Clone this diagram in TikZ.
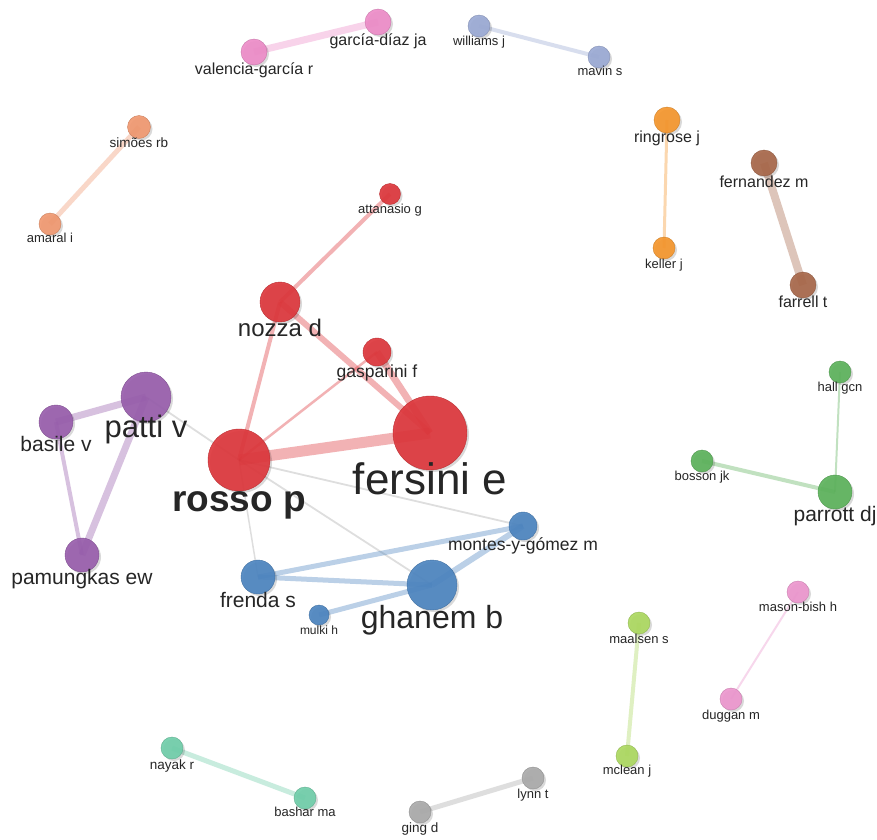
\documentclass[tikz,border=0pt]{standalone}
\usepackage{fontspec}
\setmainfont{Liberation Sans}
\usetikzlibrary{shadows,backgrounds}

\definecolor{cRed}{RGB}{221,55,60}
\definecolor{cBlue}{RGB}{77,133,192}
\definecolor{cPurple}{RGB}{152,94,172}
\definecolor{cGreen}{RGB}{93,178,92}
\definecolor{cOrange}{RGB}{245,150,45}
\definecolor{cBrown}{RGB}{168,104,74}
\definecolor{cPink}{RGB}{237,140,200}
\definecolor{cSalmon}{RGB}{240,152,112}
\definecolor{cSlate}{RGB}{155,170,212}
\definecolor{cLime}{RGB}{172,216,96}
\definecolor{cTeal}{RGB}{112,206,170}
\definecolor{cGray}{RGB}{170,170,170}
\definecolor{cOrchid}{RGB}{236,150,206}

\pgfdeclarelayer{edges}
\pgfsetlayers{background,edges,main}

\begin{document}
\begin{tikzpicture}[x=1pt,y=-1pt,
	au/.style 2 args={circle, inner sep=0pt, minimum size=#2, fill=#1, draw=#1!85!black, line width=.4pt,
		fill opacity=.92, drop shadow={shadow xshift=2pt, shadow yshift=-2pt, opacity=.15, fill=black}},
	lab/.style={font=\fontsize{#1}{#1}\selectfont, text=black!85, inner sep=0pt, anchor=base},
	link/.style 2 args={draw=#1, line width=#2, opacity=.38},
	cross/.style={draw=black, line width=#1, opacity=.13}]

	\begin{pgfonlayer}{background}
		\fill[white] (0,0) rectangle (877,839);
	\end{pgfonlayer}
	\useasboundingbox (0,0) rectangle (877,839);

	% red cluster
	\node[au={cRed}{74}] (fersini) at (430,433) {};
	\node[au={cRed}{62}] (rosso) at (239,460) {};
	\node[au={cRed}{40}] (nozza) at (280,302) {};
	\node[au={cRed}{28}] (gasparini) at (377,352) {};
	\node[au={cRed}{21}] (attanasio) at (390,194) {};
	\node[lab=44] (fersini-l) at (430,494) {fersini e};
	\node[lab=37] (rosso-l) at (239,511) {\bfseries rosso p};
	\node[lab=24] (nozza-l) at (280,336) {nozza d};
	\node[lab=17.5] (gasparini-l) at (377,377) {gasparini f};
	\node[lab=13] (attanasio-l) at (390,213) {attanasio g};

	% blue cluster
	\node[au={cBlue}{50}] (ghanem) at (432,585) {};
	\node[au={cBlue}{34}] (frenda) at (258,577) {};
	\node[au={cBlue}{28}] (montes) at (523,526) {};
	\node[au={cBlue}{20}] (mulki) at (319,615) {};
	\node[lab=32] (ghanem-l) at (432,628) {ghanem b};
	\node[lab=21] (frenda-l) at (258,607) {frenda s};
	\node[lab=17.5] (montes-l) at (523,550) {montes-y-gómez m};
	\node[lab=12] (mulki-l) at (319,634) {mulki h};

	% purple cluster
	\node[au={cPurple}{50}] (patti) at (146,397) {};
	\node[au={cPurple}{34}] (basile) at (56,422) {};
	\node[au={cPurple}{34}] (pamungkas) at (82,555) {};
	\node[lab=31] (patti-l) at (146,437) {patti v};
	\node[lab=21] (basile-l) at (56,451) {basile v};
	\node[lab=21] (pamungkas-l) at (82,584) {pamungkas ew};

	% green cluster
	\node[au={cGreen}{34}] (parrott) at (835,492) {};
	\node[au={cGreen}{22}] (hall) at (840,372) {};
	\node[au={cGreen}{22}] (bosson) at (702,461) {};
	\node[lab=21] (parrott-l) at (835,521) {parrott dj};
	\node[lab=13] (hall-l) at (840,391) {hall gcn};
	\node[lab=13] (bosson-l) at (702,480) {bosson jk};

	% small pairs
	\node[au={cPink}{26}] (garcia) at (378,22) {};
	\node[au={cPink}{26}] (valencia) at (254,52) {};
	\node[lab=16] (garcia-l) at (378,45) {garcía-díaz ja};
	\node[lab=16] (valencia-l) at (254,74) {valencia-garcía r};

	\node[au={cSlate}{22}] (williams) at (479,26) {};
	\node[au={cSlate}{22}] (mavin) at (599,57) {};
	\node[lab=13] (williams-l) at (479,45) {williams j};
	\node[lab=13] (mavin-l) at (600,75) {mavin s};

	\node[au={cSalmon}{23}] (simoes) at (139,127) {};
	\node[au={cSalmon}{22}] (amaral) at (50,224) {};
	\node[lab=13.5] (simoes-l) at (139,147) {simões rb};
	\node[lab=13] (amaral-l) at (50,242) {amaral i};

	\node[au={cOrange}{26}] (ringrose) at (667,120) {};
	\node[au={cOrange}{22}] (keller) at (664,248) {};
	\node[lab=16] (ringrose-l) at (667,142) {ringrose j};
	\node[lab=13] (keller-l) at (664,268) {keller j};

	\node[au={cBrown}{26}] (fernandez) at (764,163) {};
	\node[au={cBrown}{26}] (farrell) at (803,285) {};
	\node[lab=16] (fernandez-l) at (764,187) {fernandez m};
	\node[lab=16] (farrell-l) at (803,307) {farrell t};

	\node[au={cLime}{22}] (maalsen) at (639,623) {};
	\node[au={cLime}{22}] (mclean) at (627,756) {};
	\node[lab=13] (maalsen-l) at (639,643) {maalsen s};
	\node[lab=13] (mclean-l) at (627,774) {mclean j};

	\node[au={cOrchid}{22}] (masonbish) at (798,592) {};
	\node[au={cOrchid}{22}] (duggan) at (731,699) {};
	\node[lab=13] (masonbish-l) at (798,611) {mason-bish h};
	\node[lab=13] (duggan-l) at (731,719) {duggan m};

	\node[au={cGray}{22}] (lynn) at (533,778) {};
	\node[au={cGray}{22}] (ging) at (420,812) {};
	\node[lab=13] (lynn-l) at (533,798) {lynn t};
	\node[lab=13.5] (ging-l) at (420,832) {ging d};

	\node[au={cTeal}{22}] (nayak) at (172,748) {};
	\node[au={cTeal}{22}] (bashar) at (305,798) {};
	\node[lab=13.5] (nayak-l) at (172,769) {nayak r};
	\node[lab=13] (bashar-l) at (305,816) {bashar ma};

	% links
	\begin{pgfonlayer}{edges}
		\draw[link={cRed}{11}] (rosso.center) -- (fersini.center);
		\draw[link={cRed}{6}] (nozza.center) -- (fersini.center);
		\draw[link={cRed}{7}] (gasparini.center) -- (fersini.center);
		\draw[link={cRed}{4}] (nozza.center) -- (rosso.center);
		\draw[link={cRed}{2.5}] (gasparini.center) -- (rosso.center);
		\draw[link={cRed}{4}] (attanasio.center) -- (nozza.center);

		\draw[cross=1.8] (patti.center) -- (rosso.center);
		\draw[cross=1.8] (rosso.center) -- (montes.center);
		\draw[cross=1.8] (rosso.center) -- (ghanem.center);
		\draw[cross=1.5] (rosso.center) -- (frenda.center);

		\draw[link={cBlue}{5}] (frenda.center) -- (montes.center);
		\draw[link={cBlue}{5}] (frenda.center) -- (ghanem.center);
		\draw[link={cBlue}{5}] (mulki.center) -- (ghanem.center);
		\draw[link={cBlue}{6}] (ghanem.center) -- (montes.center);

		\draw[link={cPurple}{7}] (patti.center) -- (basile.center);
		\draw[link={cPurple}{7}] (patti.center) -- (pamungkas.center);
		\draw[link={cPurple}{4}] (basile.center) -- (pamungkas.center);

		\draw[link={cGreen}{2}] (hall.center) -- (parrott.center);
		\draw[link={cGreen}{4}] (bosson.center) -- (parrott.center);

		\draw[link={cPink}{7}] (valencia.center) -- (garcia.center);
		\draw[link={cSlate}{4}] (williams.center) -- (mavin.center);
		\draw[link={cSalmon}{5}] (simoes.center) -- (amaral.center);
		\draw[link={cOrange}{3}] (ringrose.center) -- (keller.center);
		\draw[link={cBrown}{8}] (fernandez.center) -- (farrell.center);
		\draw[link={cLime}{4}] (maalsen.center) -- (mclean.center);
		\draw[link={cOrchid}{2}] (masonbish.center) -- (duggan.center);
		\draw[link={cGray}{5}] (lynn.center) -- (ging.center);
		\draw[link={cTeal}{5}] (nayak.center) -- (bashar.center);
	\end{pgfonlayer}
\end{tikzpicture}
\end{document}
